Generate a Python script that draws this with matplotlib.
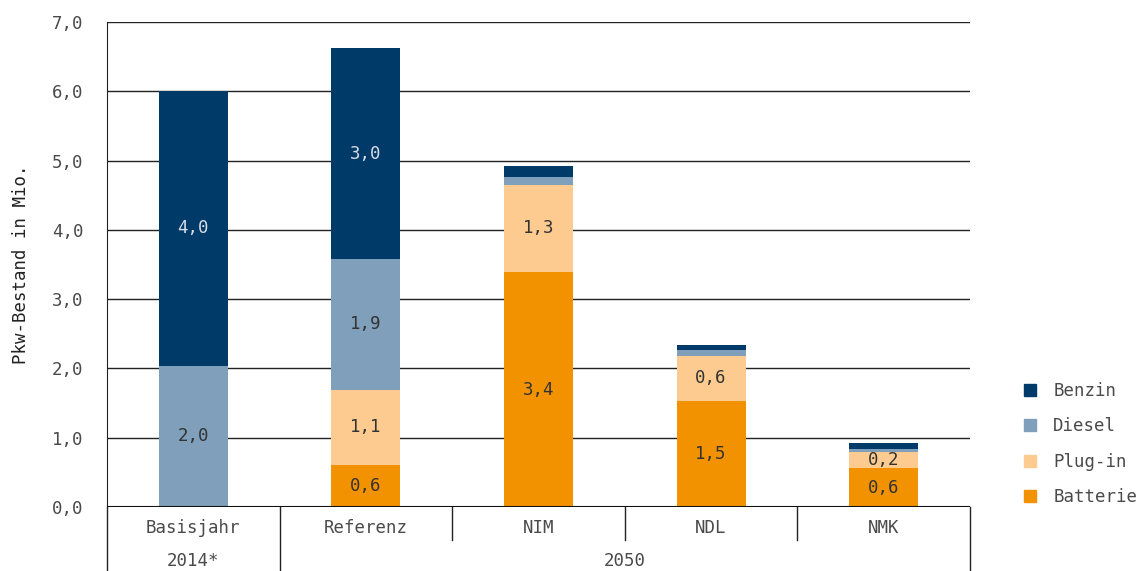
import matplotlib.pyplot as plt
from matplotlib.patches import Patch
import numpy as np

categories = ["Basisjahr", "Referenz", "NIM", "NDL", "NMK"]
groups = ["2014*", "2050"]

# values in Mio. vehicles
batterie = [0.005, 0.61, 3.39, 1.53, 0.56]
plugin = [0.005, 1.08, 1.26, 0.65, 0.23]
diesel = [2.03, 1.89, 0.11, 0.09, 0.05]
benzin = [3.96, 3.04, 0.16, 0.07, 0.08]

series = [
    ("Batterie", batterie, "#f39200", "#333333"),
    ("Plug-in", plugin, "#fdcb8f", "#333333"),
    ("Diesel", diesel, "#7f9fba", "#333333"),
    ("Benzin", benzin, "#003a68", "#d8dde6"),
]

FONT = "DejaVu Sans Mono"
FS = 12.5
TEXT_COLOR = "#4a4a4a"
plt.rcParams["font.family"] = FONT

fig = plt.figure(figsize=(11.37, 5.71), dpi=100)
ax = fig.add_axes([107 / 1137, 64 / 571, 863 / 1137, 485 / 571])

x = np.arange(len(categories))
bottom = np.zeros(len(categories))
for name, vals, color, label_color in series:
    vals = np.array(vals)
    ax.bar(x, vals, 0.4, bottom=bottom, color=color, zorder=3, label=name)
    for xi, v, b in zip(x, vals, bottom):
        if v >= 0.2:
            ax.text(xi, b + v / 2, f"{round(v, 1):.1f}".replace(".", ","),
                    ha="center", va="center", fontsize=FS, color=label_color, zorder=4)
    bottom += vals

ax.set_xlim(-0.5, 4.5)
ax.set_ylim(0, 7)
ax.set_yticks(np.arange(0, 8, 1))
ax.set_yticklabels([f"{v:.1f}".replace(".", ",") for v in np.arange(0, 8, 1)],
                   fontsize=FS, color=TEXT_COLOR)
ax.tick_params(axis="y", length=0, pad=17)
ax.set_xticks([])
ax.grid(axis="y", color="#222222", linewidth=1, zorder=0)
for side in ["top", "right", "bottom"]:
    ax.spines[side].set_visible(False)
ax.spines["left"].set_color("#222222")
ax.axhline(0, color="#111111", linewidth=1.5, zorder=5)
ax.set_ylabel("Pkw-Bestand in Mio.", fontsize=FS, color="#222222", labelpad=16)

# table below the axis
trans = ax.get_xaxis_transform()
for xv in [-0.5, 0.5, 4.5]:
    ax.plot([xv, xv], [0, -0.14], color="#222222", linewidth=1, transform=trans, clip_on=False)
for xv in [1.5, 2.5, 3.5]:
    ax.plot([xv, xv], [0, -0.068], color="#222222", linewidth=1, transform=trans, clip_on=False)
for xi, cat in zip(x, categories):
    ax.text(xi, -0.043, cat, ha="center", va="center", fontsize=FS,
            color=TEXT_COLOR, transform=trans)
ax.text(0, -0.111, groups[0], ha="center", va="center", fontsize=FS,
        color=TEXT_COLOR, transform=trans)
ax.text(2.5, -0.111, groups[1], ha="center", va="center", fontsize=FS,
        color=TEXT_COLOR, transform=trans)

handles = [Patch(color=c, label=n) for n, _, c, _ in series[::-1]]
leg = fig.legend(handles=handles, loc="center left", bbox_to_anchor=(1008 / 1137, 1 - 444 / 571),
                 frameon=False, fontsize=FS, handlelength=0.7, handleheight=0.7,
                 labelspacing=1.0, handletextpad=1.0)
for t in leg.get_texts():
    t.set_color(TEXT_COLOR)

fig.savefig("out.png", dpi=100)
